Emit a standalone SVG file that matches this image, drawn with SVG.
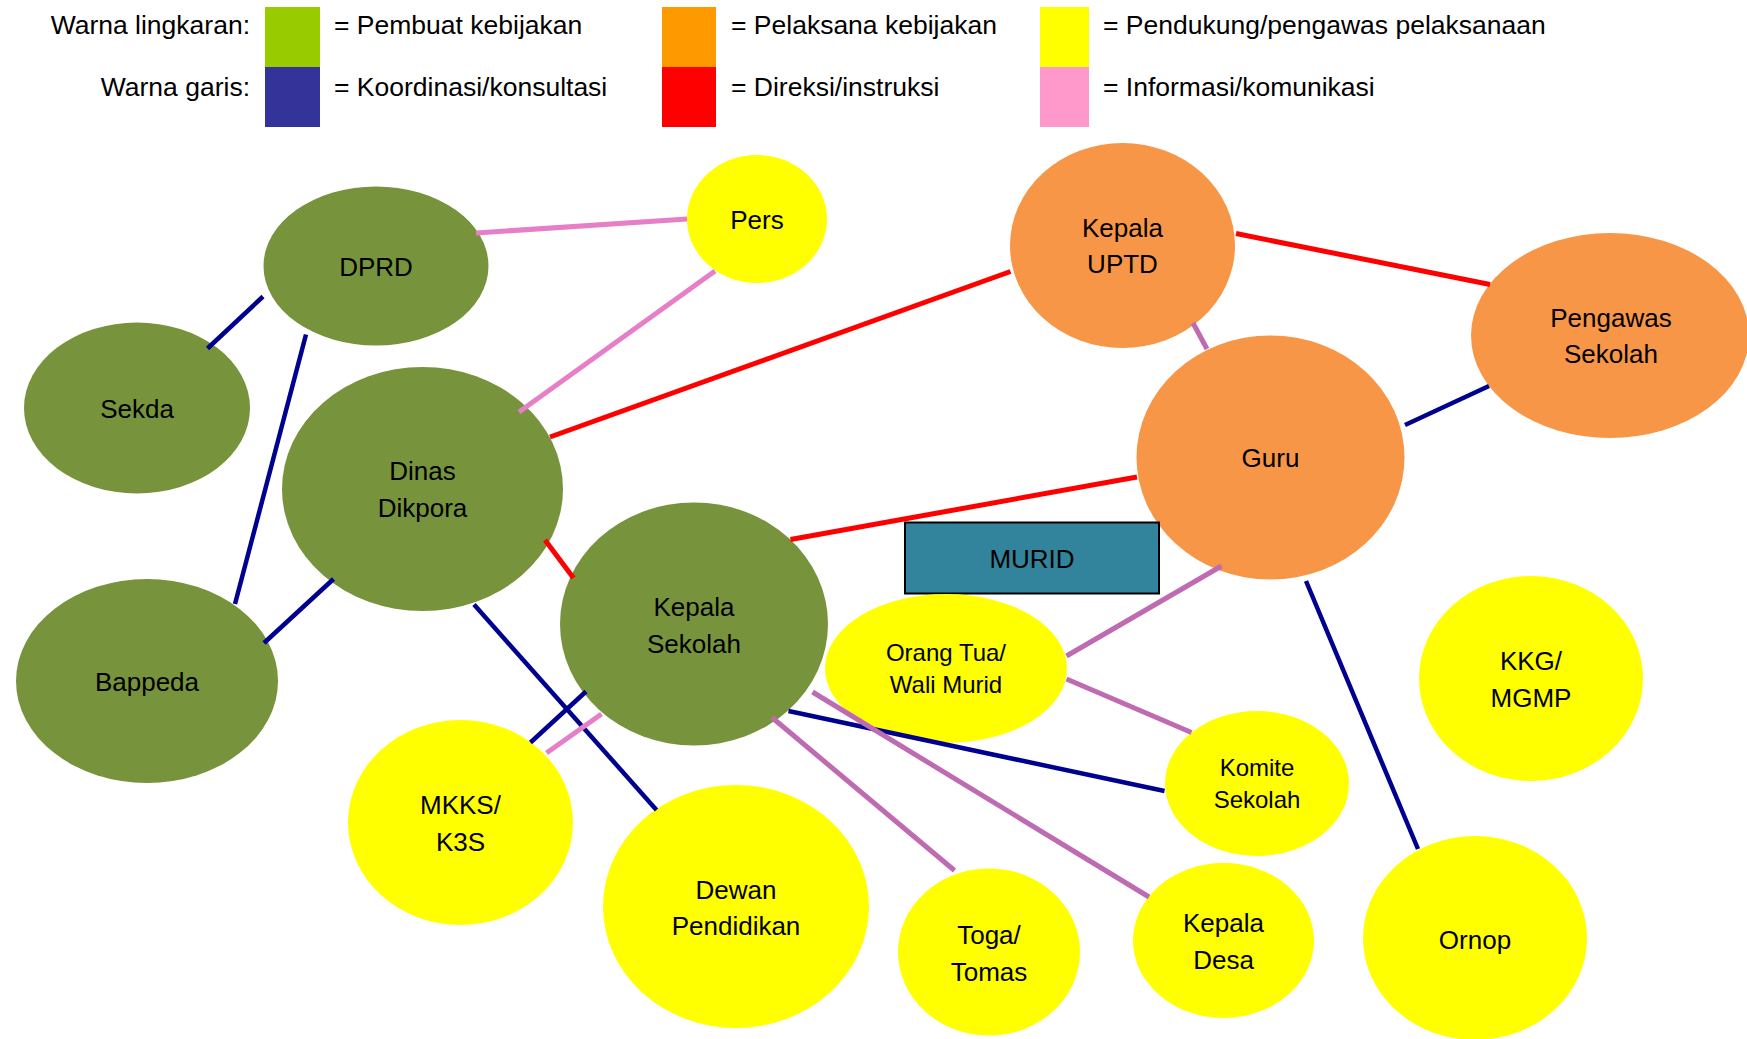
<svg xmlns="http://www.w3.org/2000/svg" width="1747" height="1039" viewBox="0 0 1747 1039">
<style>
text{font-family:"Liberation Sans",Arial,sans-serif;fill:#000}
.lg{font-size:26.5px}
.n{font-size:26px;text-anchor:middle}
.s{font-size:24px;text-anchor:middle}
.g{fill:#77933c}
.o{fill:#f79646}
.y{fill:#ffff00}
.c{stroke-linecap:butt;fill:none}
.nv{stroke:#000090;stroke-width:4.5}
.rd{stroke:#ff0000;stroke-width:5}
.pk{stroke:#e67fc8;stroke-width:5}
.pu{stroke:#bf6bb2;stroke-width:5}
</style>
<rect width="1747" height="1039" fill="#fff"/>
<g id="legend">
<text class="lg" x="250" y="34" text-anchor="end">Warna lingkaran:</text>
<text class="lg" x="250" y="96" text-anchor="end">Warna garis:</text>
<rect x="265" y="7" width="55" height="60" fill="#99cc00"/>
<rect x="265" y="67" width="55" height="60" fill="#333399"/>
<rect x="662" y="7" width="54" height="60" fill="#ff9900"/>
<rect x="662" y="67" width="54" height="60" fill="#ff0000"/>
<rect x="1040" y="7" width="49" height="60" fill="#ffff00"/>
<rect x="1040" y="67" width="49" height="60" fill="#ff99cc"/>
<text class="lg" x="334" y="34">= Pembuat kebijakan</text>
<text class="lg" x="334" y="96">= Koordinasi/konsultasi</text>
<text class="lg" x="731" y="34">= Pelaksana kebijakan</text>
<text class="lg" x="731" y="96">= Direksi/instruksi</text>
<text class="lg" x="1103" y="34">= Pendukung/pengawas pelaksanaan</text>
<text class="lg" x="1103" y="96">= Informasi/komunikasi</text>
</g>
<g id="dprd"><ellipse class="g" cx="376" cy="266" rx="112.5" ry="79.5"/><text class="n" x="376" y="275.5">DPRD</text></g>
<g id="sekda"><ellipse class="g" cx="137" cy="408" rx="113" ry="85.5"/><text class="n" x="137" y="417.5">Sekda</text></g>
<g id="dinas"><ellipse class="g" cx="422.5" cy="489" rx="140.5" ry="122"/><text class="n" x="422.5" y="480">Dinas</text><text class="n" x="422.5" y="516.5">Dikpora</text></g>
<g id="bappeda"><ellipse class="g" cx="147" cy="681" rx="131" ry="102"/><text class="n" x="147" y="690.5">Bappeda</text></g>
<g id="kepala-sekolah"><ellipse class="g" cx="694" cy="624" rx="134" ry="121.5"/><text class="n" x="694" y="616">Kepala</text><text class="n" x="694" y="652.5">Sekolah</text></g>
<g id="pers"><ellipse class="y" cx="757" cy="219" rx="70" ry="64"/><text class="n" x="757" y="228.5">Pers</text></g>
<g id="kepala-uptd"><ellipse class="o" cx="1122.5" cy="245.5" rx="112.5" ry="102.5"/><text class="n" x="1122.5" y="236.5">Kepala</text><text class="n" x="1122.5" y="273">UPTD</text></g>
<g id="guru"><ellipse class="o" cx="1270.5" cy="457.5" rx="134" ry="122"/><text class="n" x="1270.5" y="467">Guru</text></g>
<g id="pengawas"><ellipse class="o" cx="1610" cy="335.5" rx="139" ry="102.5"/><text class="n" x="1611" y="326.5">Pengawas</text><text class="n" x="1611" y="363">Sekolah</text></g>
<g id="murid"><rect x="905" y="522.5" width="254" height="71" fill="#31849b" stroke="#000" stroke-width="2"/><text class="n" x="1032" y="568">MURID</text></g>
<g id="orang-tua"><ellipse class="y" cx="946" cy="668.5" rx="121" ry="74.5"/><text class="s" x="946" y="661">Orang Tua/</text><text class="s" x="946" y="693">Wali Murid</text></g>
<g id="komite"><ellipse class="y" cx="1257" cy="783.5" rx="92" ry="72.5"/><text class="s" x="1257" y="776">Komite</text><text class="s" x="1257" y="808">Sekolah</text></g>
<g id="kkg"><ellipse class="y" cx="1531" cy="678.5" rx="112" ry="102.5"/><text class="n" x="1531" y="670">KKG/</text><text class="n" x="1531" y="706.5">MGMP</text></g>
<g id="ornop"><ellipse class="y" cx="1475" cy="938" rx="112" ry="102"/><text class="n" x="1475" y="949">Ornop</text></g>
<g id="kepala-desa"><ellipse class="y" cx="1223.5" cy="940.5" rx="90.5" ry="77.5"/><text class="n" x="1223.5" y="932">Kepala</text><text class="n" x="1223.5" y="968.5">Desa</text></g>
<g id="toga"><ellipse class="y" cx="989" cy="952" rx="91" ry="83.5"/><text class="n" x="989" y="944">Toga/</text><text class="n" x="989" y="980.5">Tomas</text></g>
<g id="dewan"><ellipse class="y" cx="736" cy="906.5" rx="133" ry="121.5"/><text class="n" x="736" y="898.5">Dewan</text><text class="n" x="736" y="935">Pendidikan</text></g>
<g id="mkks"><ellipse class="y" cx="460.5" cy="822.5" rx="112.5" ry="102.5"/><text class="n" x="460.5" y="814">MKKS/</text><text class="n" x="460.5" y="850.5">K3S</text></g>
<g id="connectors" class="c">
<line class="pk" x1="476" y1="233" x2="687" y2="219"/>
<line class="pk" x1="715" y1="271" x2="519" y2="412"/>
<line class="rd" x1="550" y1="437" x2="1010.5" y2="271.5"/>
<line class="rd" x1="1236" y1="233.5" x2="1490" y2="284.5"/>
<line class="pu" x1="1193" y1="323" x2="1207" y2="349"/>
<line class="nv" x1="1489" y1="386" x2="1405" y2="425"/>
<line class="rd" x1="1137" y1="477" x2="790.5" y2="539.5"/>
<line class="rd" x1="545" y1="540" x2="573.5" y2="578"/>
<line class="nv" x1="263" y1="296.5" x2="207.5" y2="348.5"/>
<line class="nv" x1="306" y1="334.5" x2="235" y2="604"/>
<line class="nv" x1="333.5" y1="579" x2="264" y2="643"/>
<line class="nv" x1="474" y1="604.5" x2="656.5" y2="810"/>
<line class="nv" x1="586" y1="691.5" x2="530.5" y2="742.5"/>
<line class="pk" x1="601.5" y1="714" x2="546.5" y2="753"/>
<line class="nv" x1="788.5" y1="711" x2="1164.5" y2="791" stroke-width="5.5"/>
<line class="pu" x1="772" y1="717.5" x2="954.5" y2="870.5"/>
<line class="pu" x1="812.5" y1="692" x2="1149" y2="897"/>
<line class="pu" x1="1221.5" y1="566" x2="1066.5" y2="656"/>
<line class="pu" x1="1066.5" y1="679" x2="1191.5" y2="732.5"/>
<line class="nv" x1="1306" y1="581" x2="1418" y2="849"/>
</g>
</svg>
